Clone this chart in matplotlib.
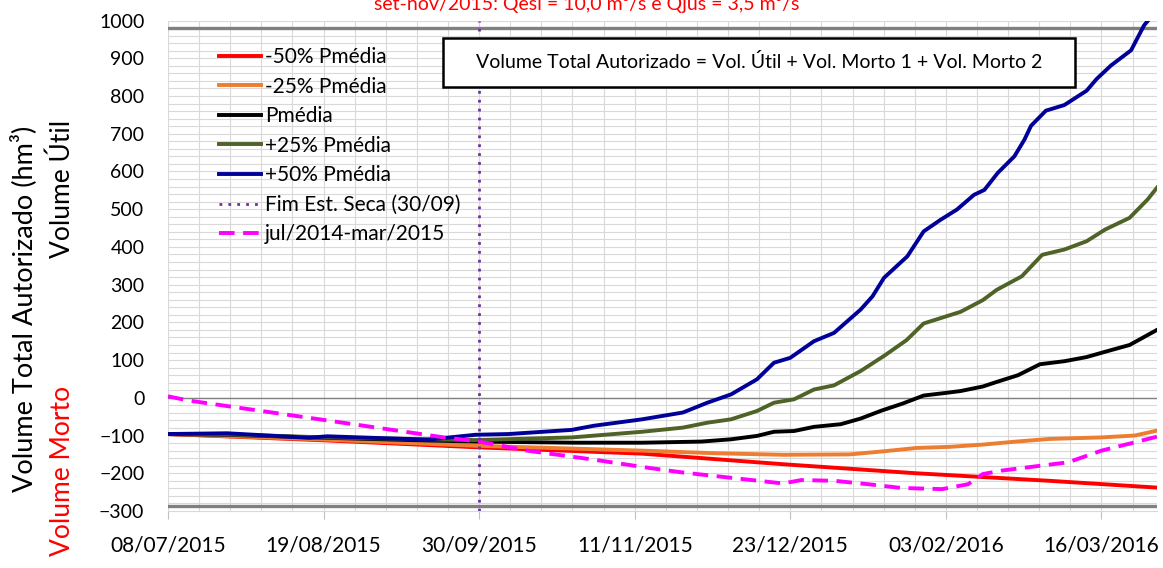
import matplotlib
matplotlib.use("Agg")
import matplotlib.pyplot as plt
from matplotlib.patches import Rectangle
import numpy as np
import datetime as dt

plt.rcParams['font.family'] = ['Lato', 'DejaVu Sans']

# ---- data (days counted from 08/07/2015, volumes in hm3) ----
START = dt.date(2015, 7, 8)
dry_end_day = 84  # 30/09/2015

days_m50 = [0, 43, 83, 128, 166, 202, 238, 267]
vol_m50 = [-96, -113, -131, -148, -176, -200, -220, -238]

days_m25 = [0, 43, 83, 128, 148, 166, 184, 193, 202, 211, 220, 229, 238, 252, 261, 267]
vol_m25 = [-96, -111, -127, -140, -147, -151, -150, -142, -133, -130, -124, -116, -109, -105, -100, -87]

days_med = [0, 16, 43, 70, 83, 110, 128, 144, 152, 159, 163.6, 169, 174.4, 181.6, 187, 192.6,
            198.4, 204, 210, 214, 220, 223.7, 229.5, 235.4, 242, 248, 253, 259.6, 267]
vol_med = [-96, -98, -106, -113, -116, -119, -119, -116, -110, -101, -90, -88, -77, -70, -55, -34,
           -15, 6, 13, 18, 30, 42, 60, 89, 97, 108, 122, 140, 180]

days_p25 = [0, 16, 43, 70, 83, 109, 128, 139, 145.6, 152, 159, 163.6, 169, 174.4, 179.8, 187,
            193.6, 199.4, 204, 214, 220, 223.7, 230.5, 236, 242, 248, 253, 259.6, 264.5, 267]
vol_p25 = [-96, -97, -105, -110, -112, -105, -90, -79, -66, -57, -35, -13, -4, 22, 33, 71,
           113, 153, 197, 228, 259, 286, 322, 379, 393, 415, 446, 477, 526, 557]

days_p50 = [0, 16, 38, 43, 70, 83, 92, 109, 115, 128, 139, 145.6, 152, 159, 163.6, 168,
            174.4, 179.8, 187, 190.2, 193.3, 199.6, 204, 208.6, 213, 217.6, 220.4, 224, 228.5,
            231.2, 233, 237, 242, 248, 250.7, 254.6, 260, 263.5, 265, 267]
vol_p50 = [-96, -94, -106, -102, -111, -98, -96, -85, -74, -57, -39, -13, 9, 49, 93, 106,
           150, 172, 234, 269, 318, 375, 441, 472, 499, 538, 551, 596, 640,
           684, 721, 761, 776, 814, 845, 881, 921, 987, 1005, 1040]

days_hist = [0, 5.4, 43, 74.5, 84, 97, 115, 130, 139, 153, 166, 171, 180, 189, 198, 209, 216,
             220, 225, 238, 243, 252, 261, 267]
vol_hist = [4, -7, -60, -105, -116, -140, -164, -186, -198, -213, -227, -218, -220, -229, -239,
            -242, -229, -202, -193, -177, -171, -140, -118, -103]

limit_lines = [979, -287]
tick_days = [0, 42, 84, 126, 168, 210, 252]
tick_labels = [(START + dt.timedelta(days=d)).strftime('%d/%m/%Y') for d in tick_days]

# ---- figure ----
W, H = 1163, 568
fig = plt.figure(figsize=(W / 100, H / 100), dpi=100)
ax = fig.add_axes([168 / W, 1 - 511 / H, (1157 - 168) / W, (511 - 20.5) / H])

ax.set_xlim(0, 267)
ax.set_ylim(-300, 1000)
ax.set_axisbelow(True)

ax.set_yticks(range(-300, 1001, 100))
ax.set_yticks(np.arange(-300, 1001, 20), minor=True)
ax.set_xticks(tick_days)
ax.set_xticklabels(tick_labels)
ax.set_xticks(np.arange(0, 268, 8.4), minor=True)
ax.grid(which='both', color='#d9d9d9', linewidth=0.8)

ax.tick_params(axis='y', which='both', length=0, pad=17, labelsize=14)
ax.tick_params(axis='x', which='major', length=6, color='#bfbfbf', pad=12, labelsize=15)
ax.tick_params(axis='x', which='minor', length=0)
for s in ax.spines.values():
    s.set_visible(False)
ax.spines['bottom'].set_visible(True)
ax.spines['bottom'].set_color('#d9d9d9')

for v in limit_lines:
    ax.axhline(v, color='#808080', linewidth=2.4, zorder=1.5)
ax.axhline(0, color='#808080', linewidth=1.0, zorder=1.5)

lw = 2.8
ax.plot(days_m50, vol_m50, color='#ff0000', lw=lw, label='-50% Pmédia')
ax.plot(days_m25, vol_m25, color='#ed7d31', lw=lw, label='-25% Pmédia')
ax.plot(days_med, vol_med, color='black', lw=lw, label='Pmédia')
ax.plot(days_p25, vol_p25, color='#4f6228', lw=lw, label='+25% Pmédia')
ax.plot(days_p50, vol_p50, color='#000099', lw=lw, label='+50% Pmédia')
ax.axvline(dry_end_day, color='#7030a0', lw=2, linestyle=(0, (1, 2.2)), zorder=6,
           label='Fim Est. Seca (30/09)')
ax.plot(days_hist, vol_hist, color='#ff00ff', lw=lw, dashes=(4, 2.2), zorder=5,
        label='jul/2014-mar/2015')

leg = ax.legend(loc='upper left', bbox_to_anchor=(219 / W, 1 - 47 / H),
                bbox_transform=fig.transFigure, frameon=False, fontsize=15,
                handlelength=2.0, handletextpad=0.2, labelspacing=0.46,
                borderpad=0, borderaxespad=0)

# formula box
fig.patches.append(Rectangle((443 / W, 1 - 87 / H), (1075 - 443) / W, 49 / H,
                             transform=fig.transFigure, facecolor='white',
                             edgecolor='black', linewidth=1.8, zorder=10))
fig.text(759 / W, 1 - 62.5 / H,
         'Volume Total Autorizado = Vol. Útil + Vol. Morto 1 + Vol. Morto 2',
         ha='center', va='center', fontsize=14, zorder=11)

# title (cut at the top as in the source)
fig.text(587 / W, 1 - 10 / H, 'set-nov/2015: Qesi = 10,0 m³/s e Qjus = 3,5 m³/s',
         color='#ff0000', ha='center', va='baseline', fontsize=14)

# axis titles
fig.text(24 / W, 1 - 309 / H, 'Volume Total Autorizado (hm³)', rotation=90,
         ha='center', va='center', fontsize=19.5)
fig.text(62 / W, 1 - 120 / H, 'Volume Útil', rotation=90,
         ha='center', va='top', fontsize=19)
fig.text(62 / W, 1 - 386 / H, 'Volume Morto', rotation=90, color='#ff0000',
         ha='center', va='top', fontsize=19)

fig.savefig('out.png', dpi=100)
